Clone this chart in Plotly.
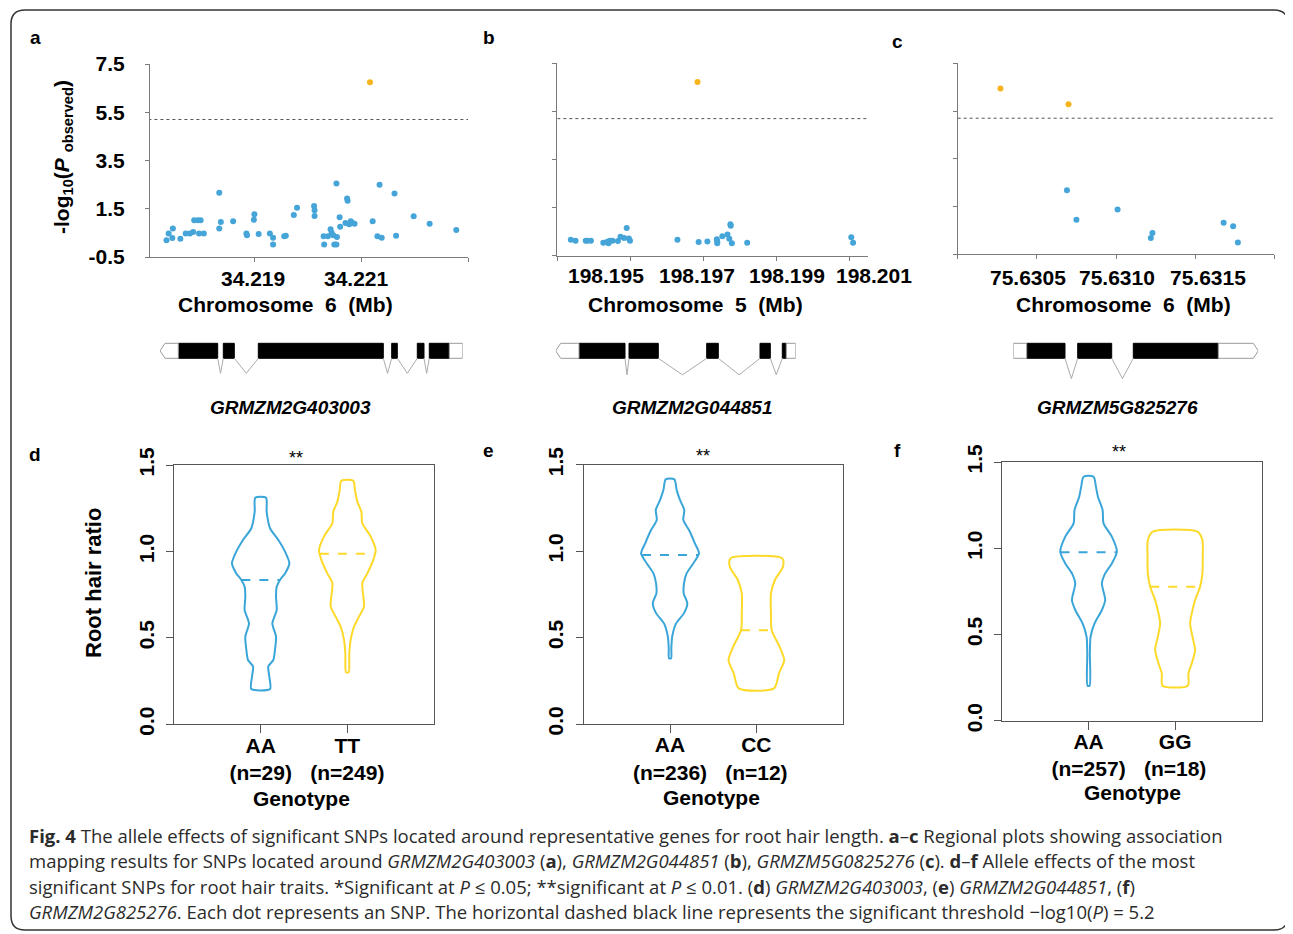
import numpy as np
import plotly.graph_objects as go

# page offset of the plot inside the browser (default body margin)
OFF = 8
W, H = 1293 - OFF, 934 - OFF
FONT = "Liberation Sans, Arial, sans-serif"

def fx(x):
    return (x - OFF) / W

def fy(y):
    return 1 - (y - OFF) / H

# ---------------- data: regional association (panels a-c) ----------------
THRESHOLD = 5.2
a_pos = [34.21734, 34.21738, 34.21745, 34.21746, 34.21760, 34.21770, 34.21778, 34.21784,
         34.21786, 34.21793, 34.21795, 34.21798, 34.21804, 34.21833, 34.21833, 34.21836,
         34.21859, 34.21884, 34.21885, 34.21899, 34.21898, 34.21907, 34.21928, 34.21934,
         34.21934, 34.21955, 34.21958, 34.21973, 34.21979, 34.22011, 34.22012, 34.22012,
         34.22029, 34.22030, 34.22037, 34.22042, 34.22044, 34.22047, 34.22049, 34.22053,
         34.22053, 34.22054, 34.22059, 34.22060, 34.22070, 34.22073, 34.22074, 34.22077,
         34.22080, 34.22083, 34.22087, 34.22116, 34.22121, 34.22130, 34.22134, 34.22138,
         34.22162, 34.22165, 34.22198, 34.22228, 34.22278]
a_logp = [0.19, 0.47, 0.29, 0.68, 0.26, 0.47, 0.47, 0.54,
          1.02, 1.02, 0.47, 1.02, 0.47, 2.16, 0.68, 0.95,
          0.98, 0.47, 0.40, 1.27, 1.04, 0.45, 0.47, 0.30,
          0.02, 0.36, 0.38, 1.24, 1.54, 1.61, 1.44, 1.20,
          0.36, 0.02, 0.36, 0.65, 0.50, 0.40, 0.02, 0.02,
          2.55, 0.33, 1.15, 0.75, 0.91, 1.92, 1.83, 0.86,
          0.98, 0.91, 0.88, 6.74, 0.98, 0.36, 2.49, 0.30,
          2.13, 0.38, 1.19, 0.88, 0.62]

b_pos = [198.19337, 198.19350, 198.19378, 198.19382, 198.19392, 198.19426, 198.19437, 198.19440,
         198.19444, 198.19451, 198.19466, 198.19473, 198.19483, 198.19490, 198.19496, 198.19499,
         198.19629, 198.19684, 198.19687, 198.19711, 198.19737, 198.19738, 198.19738, 198.19752,
         198.19766, 198.19771, 198.19774, 198.19775, 198.19778, 198.19820, 198.20105, 198.20110]
b_logp = [0.16, 0.12, 0.12, 0.12, 0.12, 0.04, 0.08, 0.02,
          0.12, 0.12, 0.11, 0.29, 0.24, 0.65, 0.22, 0.12,
          0.16, 6.72, 0.07, 0.09, 0.18, 0.09, 0.02, 0.31,
          0.38, 0.20, 0.81, 0.75, 0.02, 0.04, 0.27, 0.04]

c_pos = [75.63027, 75.63070, 75.63069, 75.63075, 75.63101, 75.63123, 75.63122, 75.63168,
         75.63174, 75.63177]
c_logp = [6.44, 5.78, 2.18, 0.95, 1.38, 0.39, 0.18, 0.82, 0.68, -0.01]

y_ticks = [-0.5, 1.5, 3.5, 5.5, 7.5]
a_ticks = [34.217, 34.219, 34.221, 34.223]
a_labels = ["34.219", "34.221"]
b_ticks = [198.193, 198.195, 198.197, 198.199, 198.201]
b_labels = ["198.195", "198.197", "198.199", "198.201"]
c_ticks = [75.6300, 75.6305, 75.6310, 75.6315, 75.6320]
c_labels = ["75.6305", "75.6310", "75.6315"]

# ---------------- data: gene models (relative positions) ----------------
gene_names = ["GRMZM2G403003", "GRMZM2G044851", "GRMZM5G825276"]
gene_a_exons = [(18.3, 57.7), (63.3, 74.3), (98.3, 223.3), (231.7, 237.3), (257.3, 264.0), (269.3, 289.3)]
gene_a_utr = [(0.0, 18.3), (289.3, 302.7)]
gene_b_exons = [(23.3, 69.3), (73.3, 102.6), (151.0, 162.6), (204.3, 214.6), (226.6, 230.6)]
gene_b_utr = [(0.0, 23.3), (230.6, 240.0)]
gene_c_exons = [(13.4, 51.7), (64.4, 98.4), (120.0, 205.0)]
gene_c_utr = [(0.0, 13.4), (205.0, 245.0)]

# ---------------- data: violin profiles (panels d-f) ----------------
d_aa_y = [1.311, 1.230, 1.134, 1.066, 0.999, 0.931, 0.873, 0.835, 0.796, 0.738, 0.661, 0.584, 0.507, 0.430, 0.372, 0.334, 0.276, 0.204]
d_aa_w = [0.062, 0.069, 0.108, 0.204, 0.281, 0.331, 0.281, 0.223, 0.185, 0.177, 0.185, 0.135, 0.177, 0.165, 0.146, 0.088, 0.100, 0.108]
d_tt_y = [1.409, 1.355, 1.288, 1.230, 1.163, 1.086, 1.008, 0.951, 0.873, 0.816, 0.738, 0.681, 0.623, 0.565, 0.488, 0.411, 0.301]
d_tt_w = [0.069, 0.088, 0.115, 0.162, 0.173, 0.270, 0.327, 0.300, 0.231, 0.173, 0.185, 0.192, 0.135, 0.077, 0.038, 0.023, 0.015]
e_aa_y = [1.415, 1.353, 1.296, 1.238, 1.180, 1.122, 1.045, 0.987, 0.929, 0.871, 0.814, 0.756, 0.698, 0.640, 0.582, 0.505, 0.438, 0.380]
e_aa_w = [0.050, 0.077, 0.115, 0.165, 0.154, 0.220, 0.288, 0.335, 0.269, 0.192, 0.162, 0.158, 0.200, 0.160, 0.070, 0.025, 0.015, 0.012]
e_cc_y = [0.958, 0.910, 0.833, 0.756, 0.640, 0.544, 0.447, 0.370, 0.293, 0.206]
e_cc_w = [0.300, 0.308, 0.215, 0.169, 0.169, 0.177, 0.269, 0.323, 0.262, 0.204]
f_aa_y = [1.415, 1.357, 1.299, 1.222, 1.144, 1.067, 0.980, 0.912, 0.854, 0.796, 0.700, 0.642, 0.564, 0.487, 0.390, 0.203]
f_aa_w = [0.058, 0.085, 0.108, 0.162, 0.173, 0.269, 0.327, 0.269, 0.192, 0.154, 0.192, 0.154, 0.069, 0.023, 0.015, 0.012]
f_gg_y = [1.096, 1.048, 0.951, 0.854, 0.777, 0.700, 0.622, 0.564, 0.487, 0.410, 0.332, 0.274, 0.203]
f_gg_w = [0.258, 0.315, 0.319, 0.315, 0.288, 0.231, 0.192, 0.173, 0.200, 0.231, 0.192, 0.154, 0.146]
medians = {"d": (0.835, 0.987), "e": (0.978, 0.542), "f": (0.976, 0.777)}
genotypes = {"d": ["AA<br>(n=29)", "TT<br>(n=249)"],
             "e": ["AA<br>(n=236)", "CC<br>(n=12)"],
             "f": ["AA<br>(n=257)", "GG<br>(n=18)"]}

BLUE_PT = "#45A4D8"
ORANGE_PT = "#F8B41C"
BLUE_V = "#3AA5D9"
YELLOW_V = "#FDD929"
AXC = "#7a7a7a"

fig = go.Figure()

# ---------------- scatter panels ----------------
panels = [("x", "y", a_pos, a_logp, a_ticks), ("x2", "y2", b_pos, b_logp, b_ticks),
          ("x3", "y3", c_pos, c_logp, c_ticks)]
for xa, ya, pos, lp, ticks in panels:
    pos = np.array(pos)
    lp = np.array(lp)
    sig = lp > THRESHOLD
    fig.add_trace(go.Scatter(x=pos[~sig], y=lp[~sig], mode="markers", xaxis=xa, yaxis=ya,
                             marker=dict(color=BLUE_PT, size=6), showlegend=False, hoverinfo="skip"))
    fig.add_trace(go.Scatter(x=pos[sig], y=lp[sig], mode="markers", xaxis=xa, yaxis=ya,
                             marker=dict(color=ORANGE_PT, size=6), showlegend=False, hoverinfo="skip"))
    fig.add_trace(go.Scatter(x=[ticks[0], ticks[-1] + (0.0005 if xa == "x2" else 0)],
                             y=[THRESHOLD, THRESHOLD], mode="lines", xaxis=xa, yaxis=ya,
                             line=dict(color="#555", width=1, dash="dot"), showlegend=False,
                             hoverinfo="skip"))

# ---------------- gene models ----------------
def gene_traces(exons, utrs, xa, tip_left, depth):
    ex, ey = [], []
    for s, e in exons:
        ex += [s, e, e, s, s, None]
        ey += [0, 0, 1, 1, 0, None]
    fig.add_trace(go.Scatter(x=ex, y=ey, mode="lines", fill="toself", fillcolor="black",
                             line=dict(color="black", width=1), xaxis=xa, yaxis="y4",
                             showlegend=False, hoverinfo="skip"))
    ux, uy = [], []
    for i, (s, e) in enumerate(utrs):
        if i == 0 and tip_left:
            t = s + 5
            ux += [s, t, e, e, t, s, None]
            uy += [0.5, 1, 1, 0, 0, 0.5, None]
        elif i == len(utrs) - 1 and not tip_left:
            t = e - 5
            ux += [s, t, e, t, s, s, None]
            uy += [1, 1, 0.5, 0, 0, 1, None]
        else:
            ux += [s, e, e, s, s, None]
            uy += [0, 0, 1, 1, 0, None]
    fig.add_trace(go.Scatter(x=ux, y=uy, mode="lines", fill="toself", fillcolor="white",
                             line=dict(color="#9a9a9a", width=1), xaxis=xa, yaxis="y4",
                             showlegend=False, hoverinfo="skip"))
    ix, iy = [], []
    for (s1, e1), (s2, e2) in zip(exons[:-1], exons[1:]):
        ix += [e1, (e1 + s2) / 2, s2, None]
        iy += [0, -depth, 0, None]
    fig.add_trace(go.Scatter(x=ix, y=iy, mode="lines", line=dict(color="#aaaaaa", width=1),
                             xaxis=xa, yaxis="y4", showlegend=False, hoverinfo="skip"))

gene_traces(gene_a_exons, gene_a_utr, "x4", True, 1.0)
gene_traces(gene_b_exons, gene_b_utr, "x5", True, 1.1)
gene_traces(gene_c_exons, gene_c_utr, "x6", False, 1.35)

# ---------------- violins ----------------
def violin(center, ys, ws, color, med, xa, ya):
    xs = [center + w for w in ws] + [center - w for w in reversed(ws)] + [center + ws[0]]
    yy = list(ys) + list(reversed(ys)) + [ys[0]]
    fig.add_trace(go.Scatter(x=xs, y=yy, mode="lines", xaxis=xa, yaxis=ya,
                             line=dict(color=color, width=2, shape="spline", smoothing=0.7),
                             showlegend=False, hoverinfo="skip"))
    hw = float(np.interp(med, ys[::-1], ws[::-1]))
    fig.add_trace(go.Scatter(x=[center - hw, center + hw], y=[med, med], mode="lines",
                             xaxis=xa, yaxis=ya, line=dict(color=color, width=2, dash="dash"),
                             showlegend=False, hoverinfo="skip"))

violin(1, d_aa_y, d_aa_w, BLUE_V, medians["d"][0], "x7", "y7")
violin(2, d_tt_y, d_tt_w, YELLOW_V, medians["d"][1], "x7", "y7")
violin(1, e_aa_y, e_aa_w, BLUE_V, medians["e"][0], "x8", "y8")
violin(2, e_cc_y, e_cc_w, YELLOW_V, medians["e"][1], "x8", "y8")
violin(1, f_aa_y, f_aa_w, BLUE_V, medians["f"][0], "x9", "y9")
violin(2, f_gg_y, f_gg_w, YELLOW_V, medians["f"][1], "x9", "y9")

# ---------------- axes ----------------
tickfont = dict(family=FONT, size=21, color="black", weight="bold")

def sc_x(dom, rng, ticks, anchor):
    return dict(domain=[fx(dom[0]), fx(dom[1])], range=rng, anchor=anchor, showline=True,
                linecolor=AXC, linewidth=1, ticks="outside", ticklen=4, tickcolor=AXC,
                tickvals=ticks, showticklabels=False, showgrid=False, zeroline=False,
                automargin=False)

def sc_y(dom, anchor, labels):
    return dict(domain=[fy(dom[1]), fy(dom[0])], range=[-0.5, 7.5], anchor=anchor, showline=True,
                linecolor=AXC, linewidth=1, ticks="outside", ticklen=4, tickcolor=AXC,
                tickvals=y_ticks, ticktext=[f"{v:.1f}" for v in y_ticks], showticklabels=labels,
                tickfont=tickfont, ticklabelstandoff=16, showgrid=False, zeroline=False,
                automargin=False)

def vio_x(dom, anchor, labels):
    return dict(domain=[fx(dom[0]), fx(dom[1])], range=[0, 3], anchor=anchor, showline=True,
                mirror=True, linecolor="#555", linewidth=1.2, ticks="outside", ticklen=8,
                tickcolor="#555", tickvals=[1, 2], ticktext=[f"<b>{t}</b>" for t in labels],
                tickfont=dict(family=FONT, size=21, color="black"), ticklabelstandoff=-6,
                showgrid=False, zeroline=False, automargin=False)

def vio_y(dom, anchor):
    return dict(domain=[fy(dom[1]), fy(dom[0])], range=[0, 1.5], anchor=anchor, showline=True,
                mirror=True, linecolor="#555", linewidth=1.2, ticks="outside", ticklen=7,
                tickcolor="#555", tickvals=[0, 0.5, 1.0, 1.5],
                ticktext=["0.0", "0.5", "1.0", "1.5"], tickangle=-90, tickfont=tickfont,
                ticklabelstandoff=4, showgrid=False, zeroline=False, automargin=False)

hidden = dict(visible=False, showgrid=False, zeroline=False, automargin=False)

fig.update_layout(
    template="none",
    width=W, height=H, margin=dict(l=0, r=0, t=0, b=0, pad=0), autosize=False,
    paper_bgcolor="white", plot_bgcolor="rgba(0,0,0,0)", showlegend=False,
    xaxis=sc_x((150, 468), [34.21703, 34.22300], a_ticks, "y"),
    yaxis=sc_y((64, 257), "x", True),
    xaxis2=sc_x((557.3, 867.7), [198.193, 198.2015], b_ticks, "y2"),
    yaxis2=sc_y((63.3, 255.7), "x2", False),
    xaxis3=sc_x((957.7, 1274.3), [75.6300, 75.6320], c_ticks, "y3"),
    yaxis3=sc_y((63.3, 254.3), "x3", False),
    xaxis4=dict(domain=[fx(160), fx(462.7)], range=[0, 302.7], anchor="y4", **hidden),
    xaxis5=dict(domain=[fx(555.7), fx(795.7)], range=[0, 240], anchor="y4", **hidden),
    xaxis6=dict(domain=[fx(1013.3), fx(1258.3)], range=[0, 245], anchor="y4", **hidden),
    yaxis4=dict(domain=[fy(380.8), fy(335.8)], range=[-1.5, 1.5], anchor="x4", **hidden),
    xaxis7=vio_x((174, 434), "y7", genotypes["d"]),
    yaxis7=vio_y((465, 724.3), "x7"),
    xaxis8=vio_x((583.7, 842.7), "y8", genotypes["e"]),
    yaxis8=vio_y((464.7, 724), "x8"),
    xaxis9=vio_x((1002, 1261.7), "y9", genotypes["f"]),
    yaxis9=vio_y((462, 720.7), "x9"),
)

# ---------------- text annotations ----------------
def ann(text, x, y, size=21, angle=0, xanchor="center", yanchor="middle", family=FONT, color="black"):
    fig.add_annotation(text=text, x=fx(x), y=fy(y), xref="paper", yref="paper", showarrow=False,
                       textangle=angle, xanchor=xanchor, yanchor=yanchor,
                       font=dict(family=family, size=size, color=color))

# panel letters
for lab, x, y in [("a", 35, 37), ("b", 489, 37), ("c", 897, 41), ("d", 35, 454), ("e", 488, 450), ("f", 897, 450)]:
    ann(f"<b>{lab}</b>", x, y, size=19)

# x tick labels of regional plots
for labs, xs, y in [(a_labels, [253, 356], 278), (b_labels, [606, 697, 787, 874], 276),
                    (c_labels, [1028, 1117, 1208], 277)]:
    for t, x in zip(labs, xs):
        ann(f"<b>{t}</b>", x, y, size=21)

ann("<b>Chromosome  6  (Mb)</b>", 285, 305, size=21)
ann("<b>Chromosome  5  (Mb)</b>", 695, 305, size=21)
ann("<b>Chromosome  6  (Mb)</b>", 1123, 305, size=21)
ann("<b>-log<sub>10</sub>(<i>P</i> <sub>observed</sub>)</b>", 63, 157, size=21, angle=-90)

for name, x in zip(gene_names, [290, 692, 1117]):
    ann(f"<b><i>{name}</i></b>", x, 407, size=19)

for x, y in [(296, 458), (703, 456), (1119, 452)]:
    ann("**", x, y, size=18)
for x, y in [(301, 798), (711, 797), (1132, 792)]:
    ann("<b>Genotype</b>", x, y, size=21)
ann("<b>Root hair ratio</b>", 93, 583, size=22, angle=-90)

# caption
cap_font = "Open Sans, Noto Sans, sans-serif"
caption = [
    "<b>Fig. 4</b> The allele effects of significant SNPs located around representative genes for root hair length. <b>a</b>–<b>c</b> Regional plots showing association",
    "mapping results for SNPs located around <i>GRMZM2G403003</i> (<b>a</b>), <i>GRMZM2G044851</i> (<b>b</b>), <i>GRMZM5G0825276</i> (<b>c</b>). <b>d</b>–<b>f</b> Allele effects of the most",
    "significant SNPs for root hair traits. *Significant at <i>P</i> ≤ 0.05; **significant at <i>P</i> ≤ 0.01. (<b>d</b>) <i>GRMZM2G403003</i>, (<b>e</b>) <i>GRMZM2G044851</i>, (<b>f</b>)",
    "<i>GRMZM2G825276</i>. Each dot represents an SNP. The horizontal dashed black line represents the significant threshold −log10(<i>P</i>) = 5.2",
]
for i, line in enumerate(caption):
    ann(line, 27, 835 + 25.6 * i, size=18.5, xanchor="left", family=cap_font, color="#2b2b2b")

# frame with rounded corners
x0, x1, yt, yb, r = 11, 1288, 10, 930, 14
path = (f"M {fx(x0 + r)} {fy(yt)} L {fx(x1 - r)} {fy(yt)} Q {fx(x1)} {fy(yt)} {fx(x1)} {fy(yt + r)} "
        f"L {fx(x1)} {fy(yb - r)} Q {fx(x1)} {fy(yb)} {fx(x1 - r)} {fy(yb)} "
        f"L {fx(x0 + r)} {fy(yb)} Q {fx(x0)} {fy(yb)} {fx(x0)} {fy(yb - r)} "
        f"L {fx(x0)} {fy(yt + r)} Q {fx(x0)} {fy(yt)} {fx(x0 + r)} {fy(yt)} Z")
fig.add_shape(type="path", path=path, xref="paper", yref="paper",
              line=dict(color="#333", width=1.5), fillcolor="rgba(0,0,0,0)")

fig.write_html("out.html")
